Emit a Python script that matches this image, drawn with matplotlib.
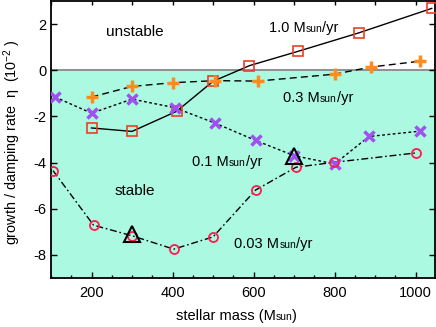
import matplotlib
matplotlib.use('Agg')
import matplotlib.pyplot as plt
from matplotlib.ticker import MultipleLocator

plt.rcParams['font.family'] = ['Liberation Sans', 'DejaVu Sans']
plt.rcParams['axes.unicode_minus'] = False
plt.rcParams['mathtext.fontset'] = 'custom'
plt.rcParams['mathtext.rm'] = 'Liberation Sans'
plt.rcParams['mathtext.it'] = 'Liberation Sans:italic'

# 1.0 Msun/yr
mass_10 = [200, 300, 410, 500, 590, 710, 860, 1040]
eta_10 = [-2.5, -2.65, -1.78, -0.48, 0.2, 0.82, 1.62, 2.68]
# 0.3 Msun/yr
mass_03 = [200, 300, 400, 505, 610, 800, 890, 1010]
eta_03 = [-1.16, -0.70, -0.54, -0.45, -0.47, -0.17, 0.14, 0.39]
# 0.1 Msun/yr
mass_01 = [110, 200, 300, 405, 505, 605, 700, 800, 885, 1010]
eta_01 = [-1.16, -1.86, -1.25, -1.62, -2.29, -3.04, -3.70, -4.06, -2.87, -2.64]
# 0.03 Msun/yr
mass_003 = [105, 205, 300, 403, 500, 605, 705, 798, 1002]
eta_003 = [-4.35, -6.71, -7.17, -7.75, -7.22, -5.19, -4.2, -3.99, -3.58]
# triangles
mass_tri = [300, 700]
eta_tri = [-7.1, -3.7]

fig = plt.figure(figsize=(4.36, 3.27), dpi=100)
ax = fig.add_axes([51/436, 49/327, 384/436, 277/327])
ax.set_xlim(100, 1048)
ax.set_ylim(-9, 3)

ax.axhspan(-9, 0, color='#abf9e1', zorder=0)
ax.axhline(0, color='#808080', lw=1.2, zorder=1)

ax.plot(mass_10, eta_10, color='black', lw=1, zorder=2)
ax.plot(mass_10, eta_10, 's', ms=7, mfc='none', mec='#f03c28', mew=1.2, zorder=3)
ax.plot(mass_03, eta_03, color='black', lw=1, dashes=(5, 3), zorder=2)
ax.plot(mass_03, eta_03, '+', ms=8, mec='#ff8c1a', mew=2.5, zorder=3)
ax.plot(mass_01, eta_01, color='black', lw=1, dashes=(2, 1.8), zorder=2)
ax.plot(mass_01, eta_01, 'x', ms=7, mec='#a050f0', mew=2.5, zorder=3)
ax.plot(mass_003, eta_003, color='black', lw=1, dashes=(5, 2, 1.2, 2), zorder=2)
ax.plot(mass_003, eta_003, 'o', ms=6.5, mfc='none', mec='#ff1a50', mew=1.3, zorder=3)
ax.plot(mass_tri, eta_tri, '^', ms=12, mfc='none', mec='black', mew=1.5, zorder=4)

fs = 10.5
fs_small = 7.5


def msun_label(x, y, head, tail='/yr', coords='data'):
    t1 = ax.text(x, y, head + ' M', fontsize=fs, ha='left', va='baseline',
                 transform=ax.transData if coords == 'data' else ax.transAxes)
    t2 = ax.annotate('sun', xy=(1, y), xycoords=(t1, coords), fontsize=fs_small,
                     ha='left', va='baseline')
    ax.annotate(tail, xy=(1, y), xycoords=(t2, coords), fontsize=fs,
                ha='left', va='baseline')


ax.text(307, 1.48, 'unstable', fontsize=11, ha='center', va='baseline')
ax.text(258, -5.39, 'stable', fontsize=11, ha='left', va='baseline')
msun_label(637, 1.65, '1.0')
msun_label(673, -1.38, '0.3')
msun_label(449, -4.13, '0.1')
msun_label(553, -7.71, '0.03')

# x label built from pieces (small "sun")
t1 = ax.text(0.325, -0.15, 'stellar mass (M', fontsize=fs, ha='left', va='baseline',
             transform=ax.transAxes)
t2 = ax.annotate('sun', xy=(1, -0.15), xycoords=(t1, 'axes fraction'),
                 fontsize=fs_small, ha='left', va='baseline', annotation_clip=False)
ax.annotate(')', xy=(1, -0.15), xycoords=(t2, 'axes fraction'), fontsize=fs,
            ha='left', va='baseline', annotation_clip=False)

ax.set_ylabel(r'growth / damping rate  η  (10$^{\mathregular{-2}}$ )', fontsize=10.4)
ax.yaxis.set_label_coords(-0.074, 0.49)

ax.xaxis.set_major_locator(MultipleLocator(200))
ax.xaxis.set_minor_locator(MultipleLocator(50))
ax.yaxis.set_major_locator(MultipleLocator(2))
ax.tick_params(axis='both', which='both', direction='in', labelsize=fs)
ax.tick_params(axis='x', which='major', length=4, width=1, top=False, pad=6)
ax.tick_params(axis='x', which='minor', length=2.5, width=1, top=False)
ax.tick_params(axis='y', which='major', length=4, width=1, right=True)
top = ax.secondary_xaxis('top')
top.xaxis.set_major_locator(MultipleLocator(100))
top.tick_params(direction='in', length=3, width=1, labeltop=False)
for s in ax.spines.values():
    s.set_linewidth(1.3)
top.spines['top'].set_visible(False)

fig.savefig('out.png', dpi=100)
